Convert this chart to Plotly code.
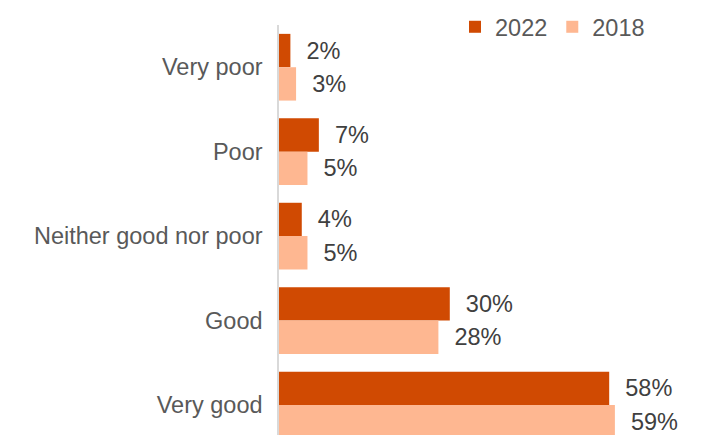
import plotly.graph_objects as go

categories = ["Very poor", "Poor", "Neither good nor poor", "Good", "Very good"]
values_2022 = [2, 7, 4, 30, 58]
values_2018 = [3, 5, 5, 28, 59]
series_names = ["2022", "2018"]

FONT = "Liberation Sans, Arial, sans-serif"
fig = go.Figure()
for name, vals, color in [(series_names[0], values_2022, "#D04A02"),
                          (series_names[1], values_2018, "#FEB791")]:
    fig.add_trace(go.Bar(
        y=categories, x=vals, name=name, orientation="h",
        marker=dict(color=color, line=dict(width=0)),
        text=[f"\u00a0\u00a0{v}%" for v in vals],
        textposition="outside", cliponaxis=False,
        textfont=dict(family=FONT, size=23.5, color="#404040"),
    ))

fig.update_layout(
    width=702, height=435,
    margin=dict(l=279, r=0, t=25, b=0, autoexpand=False),
    paper_bgcolor="white", plot_bgcolor="white",
    barmode="group", bargap=0.21, bargroupgap=0,
    font=dict(family=FONT, size=23.5, color="#595959"),
    showlegend=True,
    legend=dict(orientation="h", xref="container", yref="container",
                x=455 / 702, xanchor="left", y=1 - 27 / 435, yanchor="middle",
                font=dict(family=FONT, size=23.5, color="#595959"),
                itemwidth=30, bgcolor="rgba(0,0,0,0)"),
)
fig.update_xaxes(range=[0, 74.3], showgrid=False, zeroline=False, showticklabels=False,
                 showline=False)
fig.update_yaxes(categoryorder="array", categoryarray=categories,
                 range=[4.355, -0.5], showgrid=False, zeroline=False,
                 showline=True, linecolor="#D9D9D9", linewidth=1.5,
                 ticks="", ticklabelstandoff=10,
                 tickfont=dict(family=FONT, size=23.5, color="#595959"))

fig.write_html("out.html",
               config={"displayModeBar": False},
               post_script="document.body.style.margin='0';document.body.style.overflow='hidden';")
